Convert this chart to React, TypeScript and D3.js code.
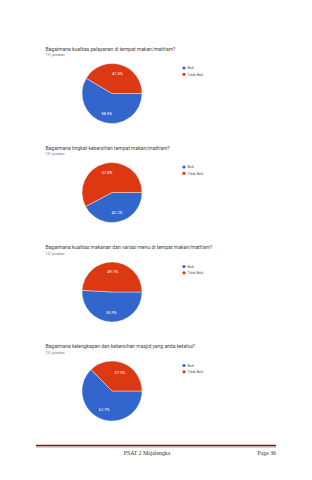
import React from "react";
import * as d3 from "d3";

const titles = [
  "Bagaimana kualitas pelayanan di tempat makan/math'am?",
  "Bagaimana tingkat kebersihan tempat makan/math'am?",
  "Bagaimana kualitas makanan dan variasi menu di tempat makan/math'am?",
  "Bagaimana kelengkapan dan kebersihan masjid yang anda ketahui?",
];
const responseLabel = "151 jawaban";
const categories = ["Baik", "Tidak Baik"];
const baikValues = [58.5, 42.2, 50.9, 62.7];
const tidakBaikValues = [41.5, 57.8, 49.1, 37.3];
const colors = ["#3366CC", "#DC3912"];
const footerCenter = "PSAT 2 Majalengka";
const footerRight = "Page 36";

const W = 312;
const H = 480;

export default function App() {
  const color = d3.scaleOrdinal<string, string>().domain(categories).range(colors);
  const pie = d3
    .pie<{ cat: string; v: number }>()
    .value((d) => d.v)
    .sort(null)
    .startAngle(Math.PI / 2)
    .endAngle(Math.PI / 2 + 2 * Math.PI);
  const r = 30;
  const arc = d3.arc<any>().innerRadius(0).outerRadius(r);
  const labelArc = d3.arc<any>().innerRadius(r * 0.68).outerRadius(r * 0.68);
  const blockTop = [0, 99, 198.5, 297.5];

  return (
    <svg
      width={W}
      height={H}
      style={{ position: "absolute", left: 0, top: 0, background: "#fff" }}
      fontFamily="Roboto, 'Liberation Sans', Arial, sans-serif"
    >
      {titles.map((t, i) => {
        const y0 = blockTop[i];
        const data = [
          { cat: categories[0], v: baikValues[i] },
          { cat: categories[1], v: tidakBaikValues[i] },
        ];
        const arcs = pie(data);
        const cx = 112;
        const cy = 93.5 + y0;
        return (
          <g key={i}>
            <text x={45.5} y={50.5 + y0} fontSize={5} fill="#444">
              {t}
            </text>
            <text x={45.5} y={56 + y0} fontSize={3.4} fill="#777" fontFamily="Roboto, sans-serif">
              {responseLabel}
            </text>
            <g transform={`translate(${cx},${cy})`}>
              {arcs.map((a, j) => (
                <path
                  key={j}
                  d={arc(a) as string}
                  fill={color(a.data.cat)}
                  stroke="#fff"
                  strokeWidth={0.4}
                />
              ))}
              {arcs.map((a, j) => {
                const [lx, ly] = labelArc.centroid(a);
                return (
                  <text
                    key={"l" + j}
                    x={lx}
                    y={ly + 1.5}
                    fontSize={4}
                    fill="#fff"
                    textAnchor="middle"
                  >
                    {a.data.v.toFixed(1)}%
                  </text>
                );
              })}
            </g>
            {categories.map((c, j) => (
              <g key={"lg" + j} transform={`translate(184,${68 + y0 + j * 6.3})`}>
                <circle r={1.6} fill={color(c)} />
                <text x={3.5} y={1.2} fontSize={3.4} fill="#555">
                  {c}
                </text>
              </g>
            ))}
          </g>
        );
      })}
      <line x1={36} x2={276} y1={445.5} y2={445.5} stroke="#622423" strokeWidth={1.6} />
      <line x1={36} x2={276} y1={447} y2={447} stroke="#622423" strokeWidth={0.4} />
      <text
        x={147}
        y={454.5}
        fontSize={5.8}
        textAnchor="middle"
        fill="#333"
        fontFamily="'Liberation Serif', 'DejaVu Serif', serif"
      >
        {footerCenter}
      </text>
      <text
        x={276}
        y={454.5}
        fontSize={5.8}
        textAnchor="end"
        fill="#333"
        fontFamily="'Liberation Serif', 'DejaVu Serif', serif"
      >
        {footerRight}
      </text>
    </svg>
  );
}
